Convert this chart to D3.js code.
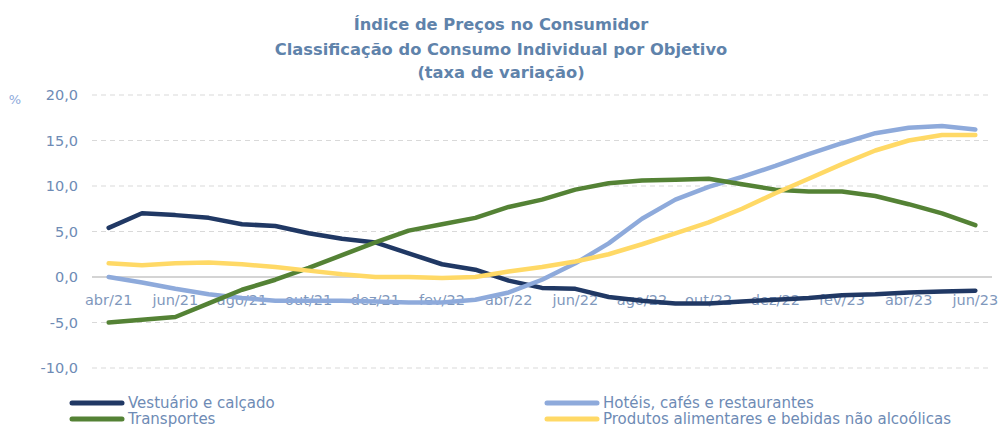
<!DOCTYPE html>
<html>
<head>
<meta charset="utf-8">
<script src="https://cdn.jsdelivr.net/npm/d3@7"></script>
<style>
  body { margin: 0; background: #fff; }
  svg { display: block; font-family: "DejaVu Sans", sans-serif; }
</style>
</head>
<body>
<div id="chart"></div>
<script>
// months (abr/21 .. jun/23)
var months = ['abr/21','mai/21','jun/21','jul/21','ago/21','set/21','out/21','nov/21','dez/21',
    'jan/22','fev/22','mar/22','abr/22','mai/22','jun/22','jul/22','ago/22','set/22','out/22','nov/22','dez/22',
    'jan/23','fev/23','mar/23','abr/23','mai/23','jun/23'];

var vestuario = [5.4, 7.0, 6.8, 6.5, 5.8, 5.6, 4.8, 4.2, 3.8, 2.6, 1.4, 0.8, -0.4, -1.2, -1.3, -2.2, -2.6, -2.9, -2.9, -2.7, -2.5, -2.3, -2.0, -1.9, -1.7, -1.6, -1.5];
var hoteis = [0.0, -0.6, -1.3, -1.9, -2.3, -2.6, -2.6, -2.6, -2.7, -2.8, -2.8, -2.5, -1.7, -0.3, 1.5, 3.7, 6.4, 8.5, 9.9, 11.0, 12.2, 13.5, 14.7, 15.8, 16.4, 16.6, 16.2];
var transportes = [-5.0, -4.7, -4.4, -2.9, -1.4, -0.3, 1.0, 2.4, 3.8, 5.1, 5.8, 6.5, 7.7, 8.5, 9.6, 10.3, 10.6, 10.7, 10.8, 10.2, 9.6, 9.4, 9.4, 8.9, 8.0, 7.0, 5.7];
var produtos = [1.5, 1.3, 1.5, 1.6, 1.4, 1.1, 0.7, 0.3, 0.0, 0.0, -0.1, 0.0, 0.6, 1.1, 1.7, 2.5, 3.6, 4.8, 6.0, 7.5, 9.2, 10.8, 12.4, 13.9, 15.0, 15.6, 15.6];

var seriesNames = ['Vestuário e calçado', 'Hotéis, cafés e restaurantes', 'Transportes', 'Produtos alimentares e bebidas não alcoólicas'];
var seriesColors = ['#203864', '#8eaadb', '#548235', '#ffd966'];
var seriesData = [vestuario, hoteis, transportes, produtos];

var yTicks = [-10, -5, 0, 5, 10, 15, 20];
var titleLines = ['Índice de Preços no Consumidor', 'Classificação do Consumo Individual por Objetivo', '(taxa de variação)'];

var w = 1000, h = 427;
var plot = {left: 92, right: 992, top: 95, bottom: 368};

var svg = d3.select('#chart').append('svg')
    .attr('width', w)
    .attr('height', h);

var x = d3.scaleBand()
    .domain(months)
    .range([plot.left, plot.right]);

var y = d3.scaleLinear()
    .domain([-10, 20])
    .range([plot.bottom, plot.top]);

//title
var titleY = [30, 55, 78];
svg.selectAll('.title')
    .data(titleLines)
    .enter().append('text')
        .attr('class', 'title')
        .attr('x', 501)
        .attr('y', function(d, i) { return titleY[i]; })
        .attr('text-anchor', 'middle')
        .style('font-weight', 'bold')
        .style('font-size', '16.3px')
        .style('fill', '#5f83ab')
        .text(function(d) { return d; });

//gridlines
svg.append('g')
    .selectAll('line')
    .data(yTicks)
    .enter().append('line')
        .attr('x1', plot.left)
        .attr('x2', plot.right)
        .attr('y1', function(d) { return y(d); })
        .attr('y2', function(d) { return y(d); })
        .style('stroke', function(d) { return d == 0 ? '#d4d4d4' : '#d9d9d9'; })
        .style('stroke-width', function(d) { return d == 0 ? 2 : 1; })
        .style('stroke-dasharray', function(d) { return d == 0 ? null : '5,4'; });

//y labels
svg.append('g')
    .selectAll('text')
    .data(yTicks)
    .enter().append('text')
        .attr('x', 78)
        .attr('y', function(d) { return y(d) + 5; })
        .attr('text-anchor', 'end')
        .style('font-size', '14.5px')
        .style('fill', '#6e8bb5')
        .text(function(d) { return d.toFixed(1).replace('.', ','); });

svg.append('text')
    .attr('x', 15)
    .attr('y', 104)
    .attr('text-anchor', 'middle')
    .style('font-size', '13px')
    .style('fill', '#8eaadb')
    .text('%');

//x labels (every second month)
svg.append('g')
    .selectAll('text')
    .data(months.filter(function(d, i) { return i % 2 == 0; }))
    .enter().append('text')
        .attr('x', function(d) { return x(d) + x.bandwidth() / 2; })
        .attr('y', y(0) + 28)
        .attr('text-anchor', 'middle')
        .style('font-size', '14.5px')
        .style('fill', '#7f98bc')
        .text(function(d) { return d; });

//lines
var line = d3.line()
    .x(function(d, i) { return x(months[i]) + x.bandwidth() / 2; })
    .y(function(d) { return y(d); });

svg.append('g')
    .selectAll('path')
    .data(seriesData)
    .enter().append('path')
        .attr('d', line)
        .style('fill', 'none')
        .style('stroke', function(d, i) { return seriesColors[i]; })
        .style('stroke-width', 4.5)
        .style('stroke-linejoin', 'round')
        .style('stroke-linecap', 'round');

//legend
var legX = [70, 545];
var legY = [403, 419];
var legend = svg.append('g')
    .selectAll('g')
    .data(seriesNames)
    .enter().append('g')
        .attr('transform', function(d, i) { return 'translate(' + legX[i % 2] + ',' + legY[Math.floor(i / 2)] + ')'; });

legend.append('line')
    .attr('x1', 2)
    .attr('x2', 52)
    .style('stroke', function(d, i) { return seriesColors[i]; })
    .style('stroke-width', 5)
    .style('stroke-linecap', 'round');

legend.append('text')
    .attr('x', 58)
    .attr('y', 4.5)
    .style('font-size', '15px')
    .style('fill', '#6e8bb5')
    .text(function(d) { return d; });
</script>
</body>
</html>
